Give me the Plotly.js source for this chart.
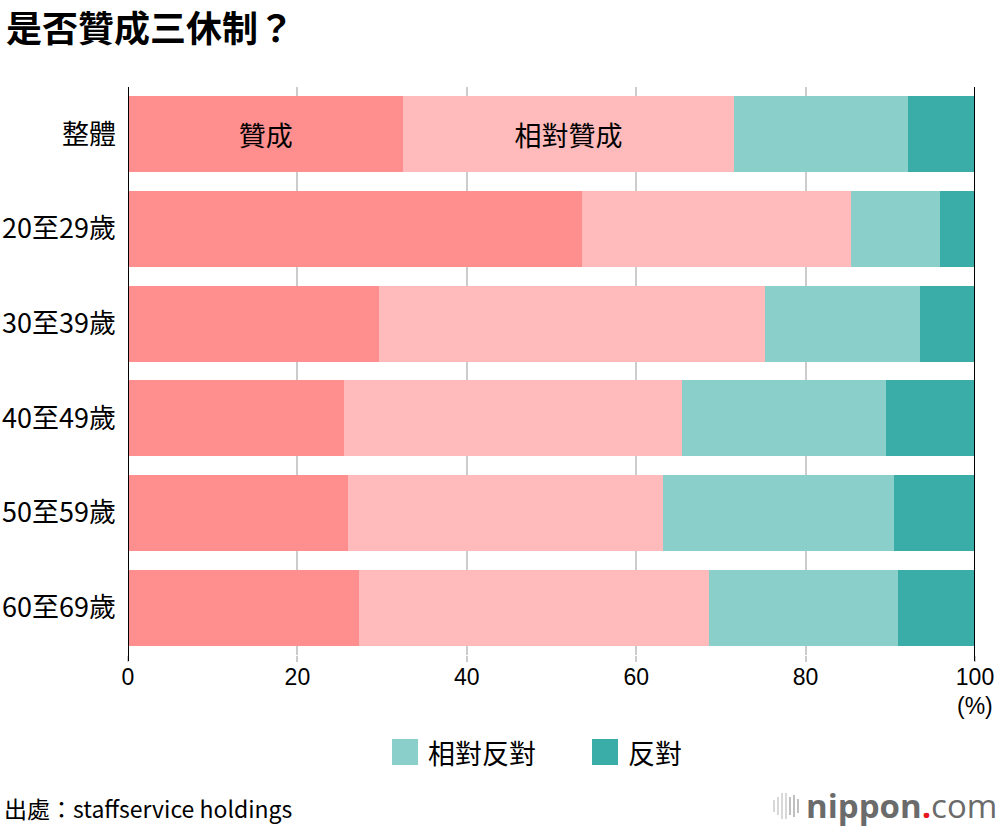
<!DOCTYPE html>
<html>
<head>
<meta charset="utf-8">
<script src="https://cdn.plot.ly/plotly-3.0.1.min.js"></script>
<style>
html,body{margin:0;padding:0;background:#fff;}
#chart{width:1000px;height:830px;}
</style>
</head>
<body>
<div id="chart"></div>
<script>
const categories = ["整體", "20至29歲", "30至39歲", "40至49歲", "50至59歲", "60至69歲"];
const seriesNames = ["贊成", "相對贊成", "相對反對", "反對"];
const approve = [32.5, 53.6, 29.6, 25.5, 26.0, 27.3];
const somewhatApprove = [39.0, 31.8, 45.6, 39.9, 37.2, 41.3];
const somewhatOppose = [20.6, 10.5, 18.3, 24.1, 27.2, 22.3];
const oppose = [7.9, 4.1, 6.5, 10.5, 9.6, 9.1];
const xTicks = [0, 20, 40, 60, 80, 100];

const colors = ["#FF8F8F", "#FFBBBB", "#8ACFCA", "#3AADA8"];
const values = [approve, somewhatApprove, somewhatOppose, oppose];
const FONT = "'Noto Sans CJK TC', 'Noto Sans', sans-serif";
const SANS = "'Liberation Sans', Arial, sans-serif";

const traces = values.map((v, i) => ({
  type: "bar",
  orientation: "h",
  name: seriesNames[i],
  y: categories,
  x: v,
  marker: {color: colors[i], line: {width: 0}},
  text: i < 2 ? categories.map((c, j) => j === 0 ? seriesNames[i] : "") : undefined,
  textposition: i < 2 ? "inside" : "none",
  insidetextanchor: "middle",
  textfont: {family: FONT, size: 27, color: "#000"},
  hoverinfo: "x+y+name",
  showlegend: false
}));

const shapes = [];
const annotations = [];
const px = x => (x - 128) / 847;
const py = y => (655 - y) / 568;

// custom legend
const legendItems = [{name: seriesNames[2], color: colors[2], x0: 392, tx: 426},
                     {name: seriesNames[3], color: colors[3], x0: 592, tx: 626}];
legendItems.forEach(it => {
  shapes.push({type: "rect", xref: "paper", yref: "paper",
    x0: px(it.x0), x1: px(it.x0 + 26),
    y0: py(765), y1: py(739),
    fillcolor: it.color, line: {width: 0}});
  annotations.push({xref: "paper", yref: "paper", x: px(it.tx), y: py(753),
    xanchor: "left", yanchor: "middle", showarrow: false, text: it.name,
    font: {family: FONT, size: 27, color: "#000"}});
});

// (%) label
annotations.push({xref: "paper", yref: "paper", x: px(995), y: py(706),
  xanchor: "right", yanchor: "middle", showarrow: false, text: "(%)",
  font: {family: SANS, size: 23, color: "#000"}});

// source
annotations.push({xref: "paper", yref: "paper", x: px(2), y: py(808),
  xanchor: "left", yanchor: "middle", showarrow: false, text: "出處：staffservice holdings",
  font: {family: FONT, size: 23, color: "#000"}});

// logo
annotations.push({xref: "paper", yref: "paper", x: px(999), y: py(805),
  xanchor: "right", yanchor: "middle", showarrow: false,
  text: "<b>nippon</b><span style='color:#e8171f'><b>.</b></span>com",
  font: {family: "'Open Sans', 'Noto Sans', sans-serif", size: 33, color: "#6b6b6b"}});
// logo bars icon
const barH = [12, 18, 26, 26, 18, 22, 14];
barH.forEach((h, k) => {
  const xp = 774 + k * 4;
  shapes.push({type: "line", xref: "paper", yref: "paper",
    x0: px(xp), x1: px(xp),
    y0: py(806 + h / 2), y1: py(806 - h / 2),
    line: {color: k < 4 ? "#cfcfcf" : "#b0b0b0", width: 1.6}});
});

const layout = {
  width: 1000,
  height: 830,
  margin: {l: 128, r: 25, t: 87, b: 175},
  paper_bgcolor: "#fff",
  plot_bgcolor: "#fff",
  barmode: "stack",
  bargap: 0.2,
  showlegend: false,
  title: {text: "<b>是否贊成三休制？</b>", x: 0.006, xanchor: "left", y: 0.965, yanchor: "middle",
    font: {family: FONT, size: 36, color: "#000"}},
  font: {family: FONT, color: "#000"},
  xaxis: {
    range: [0, 100],
    tickvals: xTicks,
    ticktext: xTicks.map(String),
    showgrid: true,
    gridcolor: "#cccccc",
    gridwidth: 2,
    zeroline: false,
    showline: false,
    ticks: "outside",
    ticklen: 6,
    tickcolor: "#cccccc",
    tickwidth: 2,
    ticklabelstandoff: -5,
    tickfont: {family: SANS, size: 23, color: "#000"},
    fixedrange: true
  },
  yaxis: {
    autorange: "reversed",
    type: "category",
    ticks: "",
    ticklabelstandoff: 11,
    showgrid: false,
    zeroline: false,
    showline: false,
    tickfont: {family: FONT, size: 27, color: "#000"},
    fixedrange: true
  },
  shapes: shapes.concat([
    {type: "line", xref: "x", yref: "paper", x0: 0, x1: 0, y0: -6/568, y1: 1, line: {color: "#000", width: 2}, layer: "above"},
    {type: "line", xref: "x", yref: "paper", x0: 100, x1: 100, y0: -6/568, y1: 1, line: {color: "#000", width: 2}, layer: "above"}
  ]),
  annotations: annotations
};

Plotly.newPlot("chart", traces, layout, {displayModeBar: false, staticPlot: true});
</script>
</body>
</html>
